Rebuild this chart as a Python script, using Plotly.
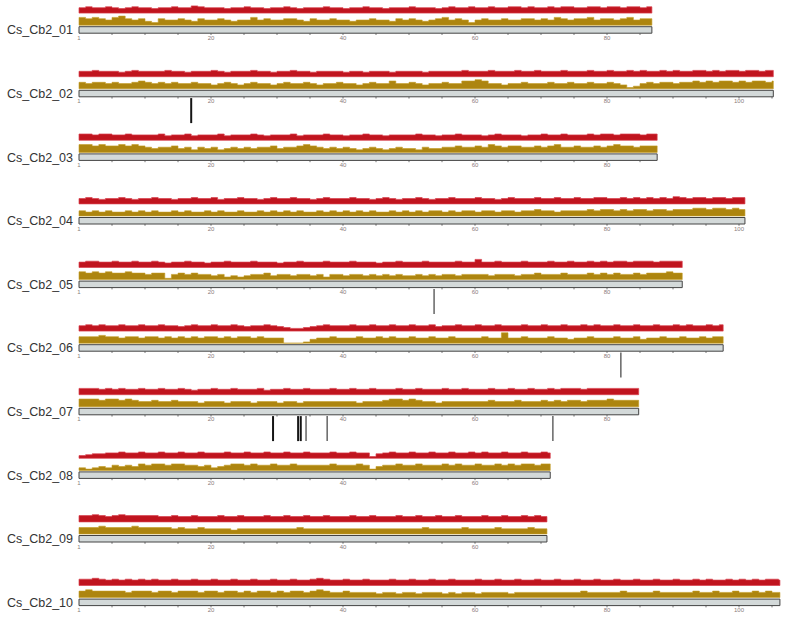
import plotly.graph_objects as go

# ---------------- data ----------------
chrom_names = ["Cs_Cb2_01", "Cs_Cb2_02", "Cs_Cb2_03", "Cs_Cb2_04", "Cs_Cb2_05",
               "Cs_Cb2_06", "Cs_Cb2_07", "Cs_Cb2_08", "Cs_Cb2_09", "Cs_Cb2_10"]
chrom_lengths_mb = [86.8, 105.2, 87.6, 100.9, 91.4, 97.6, 84.8, 71.4, 70.9, 106.2]

# density per 1-Mb bin (relative units 0-9), upper (red) track
red_01 = [6,7,6,6,7,6,5,6,7,6, 6,5,6,6,7,6,6,8,7,6, 6,6,5,6,6,7,6,6,5,6, 6,7,6,5,6,6,6,7,6,6,
          5,6,6,7,6,6,5,6,6,6, 7,6,6,6,5,6,7,6,6,7, 6,6,7,6,6,7,7,6,7,6, 6,7,6,7,7,6,6,7,7,6,
          7,7,6,7,7,6,7]
red_02 = [6,6,7,6,6,6,5,6,7,6, 6,6,6,7,6,6,5,6,6,6, 7,6,5,6,6,6,7,6,6,5, 6,6,7,6,6,5,6,6,6,6,
          5,6,6,5,6,6,6,5,6,6, 6,6,5,6,6,6,6,6,7,6, 6,6,7,6,6,6,7,6,6,7, 6,6,6,7,6,6,6,7,6,6,
          7,6,6,7,6,7,6,6,7,6, 7,6,6,7,7,6,7,6,7,7, 6,7,7,6,7,7]
red_03 = [7,7,6,7,7,6,6,7,6,6, 6,6,7,5,6,6,7,5,6,6, 6,7,5,6,6,6,7,6,5,6, 6,6,7,5,6,6,6,7,6,6,
          5,6,6,7,6,6,5,6,6,6, 6,7,6,6,5,6,6,7,6,6, 6,5,6,7,6,6,6,5,6,6, 7,6,6,7,6,6,6,7,6,7,
          7,6,7,7,7,6,7,7]
red_04 = [6,7,6,5,6,6,7,6,5,6, 6,7,6,6,5,6,6,7,6,6, 7,5,6,6,7,6,6,5,6,7, 6,6,7,6,6,5,6,7,6,6,
          6,7,6,6,5,6,7,6,5,6, 6,7,6,5,6,6,7,6,6,6, 7,6,6,5,6,7,6,6,6,7, 6,6,7,6,6,7,6,6,7,7,
          6,6,7,6,7,6,7,6,7,6, 8,7,6,7,7,6,7,7,6,7, 7]
red_05 = [6,7,7,6,6,7,6,6,7,6, 6,7,6,5,6,6,7,6,6,5, 6,6,7,6,6,6,7,6,6,6, 5,6,6,7,6,6,6,7,6,6,
          6,7,6,6,6,5,6,6,7,6, 6,6,7,6,6,6,6,7,6,6, 9,6,6,7,6,6,6,7,6,6, 6,7,6,6,7,6,6,7,6,7,
          6,7,7,6,7,7,7,6,7,7, 7,7]
red_06 = [6,7,6,7,6,6,7,6,6,7, 6,6,7,6,6,5,6,7,6,6, 7,6,6,7,6,5,6,6,7,6, 5,4,3,3,4,5,6,7,6,6,
          6,7,6,6,7,6,6,7,6,6, 7,6,6,7,5,6,6,7,6,6, 7,6,6,7,6,6,6,7,6,6, 7,6,6,7,6,6,7,6,7,6,
          6,7,6,6,7,6,6,7,6,6, 7,6,7,6,6,7,6,7]
red_07 = [7,7,7,6,7,6,7,6,6,7, 6,6,7,6,6,7,6,5,6,6, 7,6,6,7,6,6,6,7,5,6, 6,7,6,6,7,6,6,6,7,6,
          6,7,6,6,7,6,6,6,7,6, 6,7,6,6,6,7,6,6,7,6, 6,6,7,6,6,7,6,6,7,6, 6,7,6,7,7,7,6,7,7,7,
          7,7,7,7,7]
red_08 = [3,4,5,5,6,6,7,6,6,7, 6,6,7,6,6,7,6,6,7,6, 6,6,7,6,6,7,6,6,7,6, 6,7,6,6,7,6,6,6,7,6,
          6,7,6,6,2,5,6,7,6,6, 7,6,6,7,6,6,7,6,6,7, 6,7,6,6,7,6,6,7,6,6, 7,6]
red_09 = [7,7,8,7,6,7,8,7,7,7, 7,7,6,6,7,6,6,7,6,6, 6,7,6,6,7,6,6,6,7,6, 6,7,6,6,7,6,6,7,6,6,
          6,7,6,6,7,6,6,6,7,6, 6,7,6,6,7,6,6,7,6,6, 6,7,6,6,7,6,6,7,6,7, 6]
red_10 = [7,7,8,7,6,7,6,7,6,7, 6,7,6,6,7,6,6,7,6,6, 7,6,6,7,6,6,7,6,6,7, 6,6,7,6,6,7,8,7,6,6,
          7,6,6,7,6,6,6,7,6,6, 7,6,6,7,6,6,7,6,6,6, 7,6,6,7,6,6,7,6,6,7, 6,6,7,6,6,7,6,6,7,6,
          6,7,6,6,7,6,6,7,6,6, 7,6,6,7,6,7,6,6,7,6, 7,6,7,6,7,7,6]

# density per 1-Mb bin (relative units 0-9), lower (gold) track
gold_01 = [6,5,6,5,4,6,7,5,4,5, 3,2,5,4,4,5,4,3,5,4, 4,5,4,3,4,4,6,4,5,4, 4,5,5,4,3,5,4,4,5,4,
           4,3,4,4,5,4,4,3,5,4, 5,4,3,4,5,6,4,5,4,2, 4,5,4,4,5,4,4,5,5,4, 5,4,6,5,4,5,5,6,4,5,
           5,4,5,6,4,5,5]
gold_02 = [5,4,5,5,4,5,4,4,5,6, 5,4,5,4,5,4,4,5,4,4, 3,4,5,4,3,4,5,4,4,3, 4,5,4,4,5,4,3,4,4,5,
           4,4,3,4,5,4,4,6,4,4, 5,4,3,4,4,5,4,4,6,6, 7,6,4,4,3,4,4,5,4,4, 4,5,4,4,5,4,4,5,4,4,
           5,4,3,1,2,4,5,4,5,5, 4,5,5,6,5,6,5,6,6,5, 6,5,6,6,5,6]
gold_03 = [6,6,5,6,5,5,6,5,6,5, 4,3,4,4,5,3,4,2,4,3, 4,2,3,4,3,4,3,4,4,5, 3,4,4,5,6,5,4,3,4,3,
           4,3,2,3,4,3,2,3,4,3, 3,2,4,3,3,4,4,5,4,4, 5,4,6,5,4,5,5,4,4,5, 4,5,6,4,4,5,4,4,5,4,
           5,6,5,5,4,5,5,5]
gold_04 = [4,3,4,3,4,3,3,4,3,4, 3,4,3,3,4,3,4,3,3,4, 3,4,3,3,4,3,3,4,3,4, 3,4,3,4,3,3,4,3,4,3,
           4,3,4,3,4,3,3,4,3,4, 3,4,3,4,4,3,4,3,4,4, 3,4,4,3,4,4,3,4,4,5, 4,4,3,4,4,4,4,5,4,5,
           5,4,5,4,5,5,4,5,5,4, 5,5,5,6,6,5,6,6,5,6, 5]
gold_05 = [6,5,6,5,6,5,5,6,5,5, 4,5,5,1,4,5,4,5,4,4, 3,4,2,3,2,3,4,4,5,3, 4,4,3,4,4,3,4,2,4,4,
           3,4,4,3,4,3,4,3,4,3, 3,4,3,4,3,4,4,3,4,4, 4,4,3,4,4,4,3,4,4,5, 4,4,4,5,4,4,4,5,4,5,
           4,5,4,4,5,4,5,5,5,6, 5,5]
gold_06 = [5,5,5,6,5,5,4,5,5,4, 5,5,4,5,4,5,4,5,4,5, 5,4,5,4,5,5,4,5,4,4, 4,0,0,0,1,3,4,4,5,4,
           4,4,5,4,4,5,4,5,4,4, 5,4,4,5,4,4,5,4,4,4, 4,5,4,4,8,4,4,5,4,4, 4,5,4,4,3,4,4,5,4,4,
           4,5,4,4,5,3,4,4,5,4, 4,5,4,4,5,4,5,5]
gold_07 = [6,6,6,5,6,6,5,6,5,4, 4,5,4,4,5,4,4,4,3,4, 4,4,3,4,4,4,3,4,4,4, 3,4,4,3,4,4,4,4,4,4,
           4,4,3,4,4,4,5,6,6,5, 6,5,4,4,3,4,4,4,4,4, 4,4,5,4,4,4,5,4,4,4, 5,4,5,4,5,5,4,5,5,5,
           6,5,5,5,5]
gold_08 = [2,1,2,3,2,4,3,4,3,5, 4,5,5,4,5,5,4,4,3,4, 2,3,4,5,5,4,5,4,4,5, 4,4,5,4,4,4,4,4,5,4,
           4,4,5,4,1,3,4,4,5,4, 4,5,4,4,4,5,4,5,4,4, 5,4,4,5,4,5,4,5,5,4, 5,5]
gold_09 = [5,5,5,6,5,5,5,5,6,5, 5,5,5,5,4,5,4,4,5,4, 4,4,4,3,4,4,4,4,4,4, 4,4,4,5,4,4,4,4,4,4,
           4,4,4,4,4,4,4,4,4,4, 4,4,5,4,4,4,4,4,5,4, 4,4,4,5,4,4,4,4,5,4, 4]
gold_10 = [5,6,5,5,5,5,5,4,5,5, 5,4,5,5,4,5,5,5,4,5, 5,4,5,5,4,5,4,5,5,4, 5,4,5,5,4,5,6,5,4,4,
           5,4,4,4,4,3,4,4,3,4, 4,3,4,4,4,3,4,3,4,4, 3,4,4,4,4,3,4,4,4,4, 4,4,4,4,4,4,5,4,4,4,
           4,4,5,4,4,4,4,5,4,4, 4,4,4,5,4,4,5,4,4,5, 4,4,5,4,5,4,4]

red_tracks = [red_01, red_02, red_03, red_04, red_05, red_06, red_07, red_08, red_09, red_10]
gold_tracks = [gold_01, gold_02, gold_03, gold_04, gold_05, gold_06, gold_07, gold_08, gold_09, gold_10]

# highlighted loci (chromosome index, position in Mb)
marker_chrom = [1, 4, 5, 6, 6, 6, 6, 6, 6]
marker_pos_mb = [17.0, 53.8, 82.1, 29.4, 33.2, 33.6, 34.4, 37.6, 71.8]
marker_strong = [True, False, False, True, True, True, False, False, False]

major_tick_vals = [0, 20, 40, 60, 80, 100]
major_tick_text = ["1", "20", "40", "60", "80", "100"]
minor_tick_step = 5

# ---------------- layout geometry (pixels) ----------------
W, H = 785, 638
X0_PX, PX_PER_MB = 79.0, 6.6
ROW0, ROW_STEP = 26.7, 63.6
BAR_H = 6.5
RED_BASE, RED_SCALE = -13.6, 0.9
GOLD_BASE, GOLD_SCALE = -1.5, 1.3

RED_FILL, RED_LINE = "#c0141e", "#d8404e"
GOLD_FILL, GOLD_LINE = "#ad850f", "#c29a22"


def step_polygon(values, length, base, scale, top):
    xs, ys = [], []
    for k, v in enumerate(values):
        x_a, x_b = k, min(k + 1, length)
        yv = top + base - v * scale
        xs += [x_a, x_b]
        ys += [yv, yv]
    xs += [length, 0.0, 0.0]
    ys += [top + base, top + base, ys[0]]
    return xs, ys


fig = go.Figure()
shapes = []
annotations = []
tick_x, tick_y, tick_t = [], [], []
minor_x, minor_y = [], []

for i, name in enumerate(chrom_names):
    top = ROW0 + i * ROW_STEP
    L = chrom_lengths_mb[i]

    rx, ry = step_polygon(red_tracks[i], L, RED_BASE, RED_SCALE, top)
    fig.add_trace(go.Scatter(x=rx, y=ry, mode="lines", fill="toself",
                             fillcolor=RED_FILL, line=dict(color=RED_LINE, width=0.7),
                             hoverinfo="skip", showlegend=False))

    gx, gy = step_polygon(gold_tracks[i], L, GOLD_BASE, GOLD_SCALE, top)
    fig.add_trace(go.Scatter(x=gx, y=gy, mode="lines", fill="toself",
                             fillcolor=GOLD_FILL, line=dict(color=GOLD_LINE, width=0.6),
                             hoverinfo="skip", showlegend=False))

    shapes.append(dict(type="rect", xref="x", yref="y", x0=0, x1=L, y0=top, y1=top + BAR_H,
                       fillcolor="#d3d9d9", line=dict(color="#444444", width=1), layer="above"))

    for tv, tt in zip(major_tick_vals, major_tick_text):
        if tv <= L:
            tick_x.append(tv)
            tick_y.append(top + BAR_H + 5.0)
            tick_t.append(tt)
    m = minor_tick_step
    while m < L:
        minor_x += [m, m, None]
        minor_y += [top + BAR_H, top + BAR_H + 1.8, None]
        m += minor_tick_step

    annotations.append(dict(text=name, xref="paper", yref="y", x=5 / W, y=top + BAR_H / 2 + 0.5,
                            xanchor="left", yanchor="middle", showarrow=False,
                            font=dict(family="Liberation Sans, Arial, sans-serif", size=12.5,
                                      color="#333333")))

fig.add_trace(go.Scatter(x=minor_x, y=minor_y, mode="lines",
                         line=dict(color="#777777", width=1), hoverinfo="skip", showlegend=False))
fig.add_trace(go.Scatter(x=tick_x, y=tick_y, mode="text", text=tick_t,
                         textfont=dict(family="Liberation Sans, Arial, sans-serif", size=6,
                                       color="#8a7c7c"),
                         hoverinfo="skip", showlegend=False))

for ci, pos, strong in zip(marker_chrom, marker_pos_mb, marker_strong):
    top = ROW0 + ci * ROW_STEP
    fig.add_trace(go.Scatter(x=[pos, pos], y=[top + BAR_H + 1.3, top + BAR_H + 26.3],
                             mode="lines",
                             line=dict(color="#151515" if strong else "#5a5a5a",
                                       width=2 if strong else 1.4),
                             hoverinfo="skip", showlegend=False))

fig.update_layout(
    width=W, height=H,
    margin=dict(l=0, r=0, t=0, b=0),
    paper_bgcolor="white", plot_bgcolor="white",
    shapes=shapes, annotations=annotations,
    xaxis=dict(range=[-X0_PX / PX_PER_MB, (W - X0_PX) / PX_PER_MB], visible=False, fixedrange=True),
    yaxis=dict(range=[H, 0], visible=False, fixedrange=True),
    showlegend=False,
)

fig.write_html("out.html", config={"displayModeBar": False},
               post_script="document.body.style.margin='0px';document.body.style.overflow='hidden';")
